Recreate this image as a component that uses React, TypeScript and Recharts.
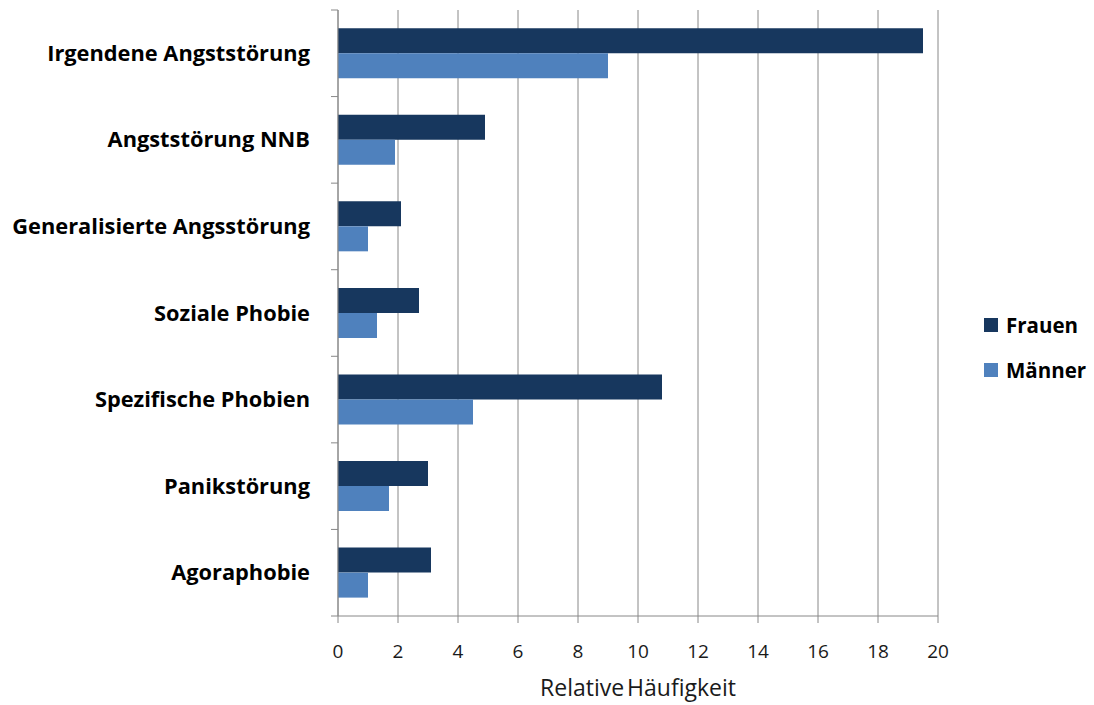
import { BarChart, Bar, XAxis, YAxis, CartesianGrid, Legend } from "recharts";

const categories = [
  "Irgendene Angststörung",
  "Angststörung NNB",
  "Generalisierte Angsstörung",
  "Soziale Phobie",
  "Spezifische Phobien",
  "Panikstörung",
  "Agoraphobie",
];
const frauen = [19.5, 4.9, 2.1, 2.7, 10.8, 3.0, 3.1];
const maenner = [9.0, 1.9, 1.0, 1.3, 4.5, 1.7, 1.0];
const xTicks = [0, 2, 4, 6, 8, 10, 12, 14, 16, 18, 20];

const FRAUEN_COLOR = "#17375e";
const MAENNER_COLOR = "#4f81bd";
const AXIS_GRAY = "#888888";
const FONT = "'Open Sans', Lato, sans-serif";

const data = categories.map((name, i) => ({
  name,
  frauen: frauen[i],
  maenner: maenner[i],
}));

const TICK_SIZE = 7;
const TICK_GAP = 21;
const LEGEND_WIDTH = 110;

// Category labels, with the tick marks placed on the band edges
// rather than at the band centres.
function CategoryTick(props: any) {
  const { x, y, payload, index, visibleTicksCount } = props;
  const half = payload?.offset ?? 0;
  const axisX = x + TICK_SIZE + TICK_GAP;
  const isLast = index === visibleTicksCount - 1;
  return (
    <g>
      <line x1={axisX - TICK_SIZE} x2={axisX} y1={y - half} y2={y - half} stroke={AXIS_GRAY} />
      {isLast && (
        <line x1={axisX - TICK_SIZE} x2={axisX} y1={y + half} y2={y + half} stroke={AXIS_GRAY} />
      )}
      <text
        x={x}
        y={y}
        dy="0.35em"
        textAnchor="end"
        fontFamily={FONT}
        fontWeight={700}
        fontSize={21.8}
        fill="#000"
      >
        {payload.value}
      </text>
    </g>
  );
}

function LegendBox() {
  const items = [
    { label: "Frauen", color: FRAUEN_COLOR },
    { label: "Männer", color: MAENNER_COLOR },
  ];
  return (
    <div style={{ fontFamily: FONT }}>
      {items.map((it) => (
        <div
          key={it.label}
          style={{ display: "flex", alignItems: "center", height: 45, gap: 8 }}
        >
          <span style={{ width: 14, height: 14, background: it.color, display: "inline-block" }} />
          <span style={{ fontSize: 20.5, fontWeight: 700, color: "#000" }}>{it.label}</span>
        </div>
      ))}
    </div>
  );
}

export default function App() {
  return (
    <div style={{ width: 1094, height: 705, background: "#fff", position: "relative" }}>
      <style>{`body { margin: 0; }`}</style>
      <BarChart
        width={1094}
        height={705}
        data={data}
        layout="vertical"
        margin={{ top: 10, right: 156 - LEGEND_WIDTH, bottom: 0, left: 0 }}
        barCategoryGap="21%"
        barGap={0}
      >
        <CartesianGrid horizontal={false} stroke={AXIS_GRAY} />
        <XAxis
          type="number"
          domain={[0, 20]}
          ticks={xTicks}
          interval={0}
          height={89}
          tickSize={TICK_SIZE}
          tickMargin={22}
          axisLine={{ stroke: AXIS_GRAY }}
          tickLine={{ stroke: AXIS_GRAY }}
          tick={{ fontFamily: FONT, fontSize: 19, fill: "#1a1a1a" }}
          label={{
            value: "Relative Häufigkeit",
            position: "insideBottom",
            offset: 9,
            style: { fontFamily: FONT, fontSize: 23, fill: "#1a1a1a", wordSpacing: -3 },
          }}
        />
        <YAxis
          type="category"
          dataKey="name"
          width={338}
          tickSize={TICK_SIZE}
          tickMargin={TICK_GAP}
          tickLine={false}
          axisLine={{ stroke: AXIS_GRAY }}
          tick={<CategoryTick />}
          interval={0}
        />
        <Legend
          layout="vertical"
          align="right"
          verticalAlign="middle"
          content={<LegendBox />}
          wrapperStyle={{ left: 984, top: 302, width: LEGEND_WIDTH }}
        />
        <Bar dataKey="frauen" name="Frauen" fill={FRAUEN_COLOR} isAnimationActive={false} />
        <Bar dataKey="maenner" name="Männer" fill={MAENNER_COLOR} isAnimationActive={false} />
      </BarChart>
    </div>
  );
}
